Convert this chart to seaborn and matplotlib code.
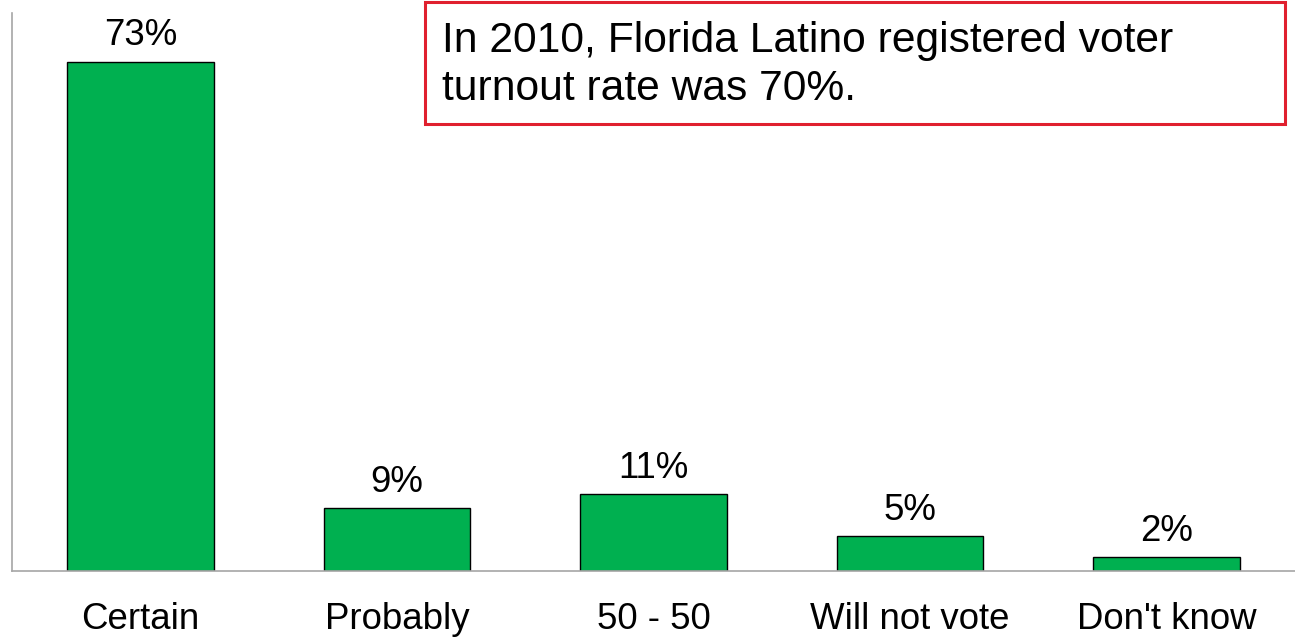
import pandas as pd
import numpy as np
import matplotlib.pyplot as plt
import seaborn as sns
from matplotlib.patches import Rectangle

categories = ["Certain", "Probably", "50 - 50", "Will not vote", "Don't know"]
values = [73, 9, 11, 5, 2]
value_labels = ["73%", "9%", "11%", "5%", "2%"]
note_lines = ["In 2010, Florida Latino registered voter", "turnout rate was 70%."]

sns.set_style("white")
plt.rcParams['font.family'] = ['Liberation Sans', 'DejaVu Sans']
plt.rcParams['text.color'] = 'black'
plt.rcParams['xtick.color'] = 'black'
plt.rcParams['xtick.labelcolor'] = 'black'

df = pd.DataFrame({"category": categories, "value": values})

fig = plt.figure(figsize=(12.95, 6.37), dpi=100)
ax = fig.add_axes([12 / 1295, 66 / 637, 1283 / 1295, 558 / 637])

sns.barplot(data=df, x="category", y="value", color="#00B050", saturation=1,
            width=0.572, edgecolor="black", linewidth=1.0, ax=ax)

ax.bar_label(ax.containers[0], labels=value_labels, padding=6, fontsize=26.4,
             color="black")

ax.set_ylim(0, 80)
ax.set_xlim(-0.5, 4.5)
ax.set_xlabel("")
ax.set_ylabel("")
ax.set_yticks([])
ax.tick_params(axis="x", length=0, pad=22, labelsize=26.4, labelcolor="black")
for side in ["top", "right"]:
    ax.spines[side].set_visible(False)
for side in ["left", "bottom"]:
    ax.spines[side].set_color("#A6A6A6")
    ax.spines[side].set_linewidth(1.2)

# note box
fig.patches.append(Rectangle((425 / 1295, 1 - 124 / 637), 860 / 1295, 122 / 637,
                             transform=fig.transFigure, fill=False,
                             edgecolor="#E0202E", linewidth=2.2))
fig.text(442 / 1295, 1 - 52 / 637, note_lines[0], fontsize=30.7, va="baseline", color="black")
fig.text(442 / 1295, 1 - 100 / 637, note_lines[1], fontsize=30.7, va="baseline", color="black")

plt.savefig("out.png", dpi=100)
